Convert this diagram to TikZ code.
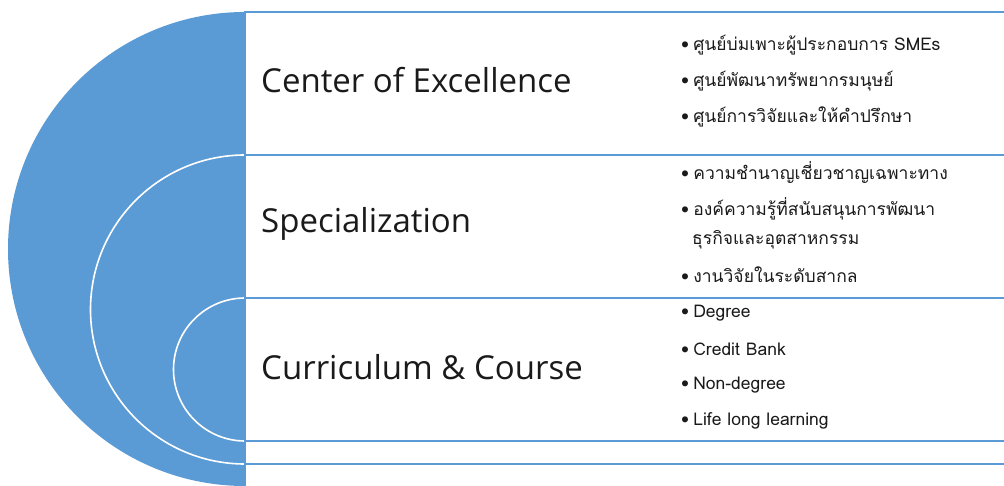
\documentclass[tikz,border=0pt]{standalone}
\usepackage{fontspec}
\setmainfont{Open Sans}
\newfontfamily\thaifont[Script=Thai]{Loma}
\definecolor{diskblue}{HTML}{5B9BD5}
\definecolor{textdark}{HTML}{1A1A1A}
\begin{document}
\begin{tikzpicture}[x=1pt,y=1pt,
  title/.style={anchor=west,inner sep=0pt,font=\fontsize{33}{36}\selectfont,text=textdark},
  item/.style={anchor=west,inner sep=0pt,font=\thaifont\fontsize{17.5}{20}\selectfont,text=textdark},
  rule/.style={draw=diskblue,line width=2pt},
  ring/.style={draw=white,line width=1.6pt}]
\useasboundingbox (0,0) rectangle (1004,-486);
\fill[white] (0,0) rectangle (1004,-486);
% half disk
\fill[diskblue] (245,-12) arc[start angle=90,end angle=270,radius=237] -- cycle;
\draw[ring] (245,-155) arc[start angle=90,end angle=270,radius=154.5];
\draw[ring] (245,-298) arc[start angle=90,end angle=270,radius=71.5];
% box rules
\draw[rule] (245,-486) -- (245,-12) -- (1004,-12);
\draw[rule] (245,-155) -- (1004,-155);
\draw[rule] (245,-298) -- (1004,-298);
\draw[rule] (245,-441) -- (1004,-441);
\draw[rule] (245,-464) -- (1004,-464);
% titles
\node[title] (coe) at (261,-80) {Center of Excellence};
\node[title] (spec) at (261,-224) {Specialization};
\node[title] (cur) at (261,-367) {Curriculum \& Course};
% bullets
\node[item] (c1) at (681,-45) {•\hspace{4pt}ศูนย์บ่มเพาะผู้ประกอบการ SMEs};
\node[item] (c2) at (681,-81) {•\hspace{4pt}ศูนย์พัฒนาทรัพยากรมนุษย์};
\node[item] (c3) at (681,-117) {•\hspace{4pt}ศูนย์การวิจัยและให้คำปรึกษา};
\node[item] (s1) at (681,-172) {•\hspace{4pt}ความชำนาญเชี่ยวชาญเฉพาะทาง};
\node[item] (s2) at (681,-209) {•\hspace{4pt}องค์ความรู้ที่สนับสนุนการพัฒนา};
\node[item] (s2b) at (692,-240) {ธุรกิจและอุตสาหกรรม};
\node[item] (s3) at (681,-275) {•\hspace{4pt}งานวิจัยในระดับสากล};
\node[item] (d1) at (681,-313) {•\hspace{4pt}Degree};
\node[item] (d2) at (681,-349) {•\hspace{4pt}Credit Bank};
\node[item] (d3) at (681,-385) {•\hspace{4pt}Non-degree};
\node[item] (d4) at (681,-421) {•\hspace{4pt}Life long learning};
\end{tikzpicture}
\end{document}
